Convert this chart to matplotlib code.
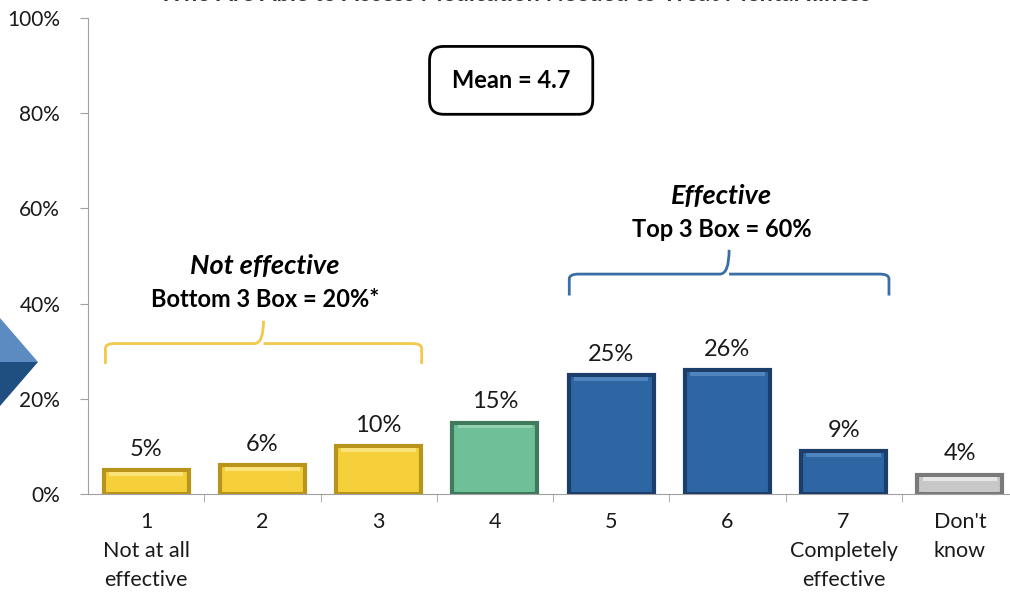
import matplotlib
matplotlib.use("Agg")
import matplotlib.pyplot as plt
from matplotlib.patches import Polygon
from matplotlib.path import Path
from matplotlib.patches import PathPatch

plt.rcParams['font.family'] = ['Lato', 'DejaVu Sans']

categories = ["1\nNot at all\neffective", "2", "3", "4", "5", "6", "7\nCompletely\neffective", "Don't\nknow"]
values = [5, 6, 10, 15, 25, 26, 9, 4]
labels = ["5%", "6%", "10%", "15%", "25%", "26%", "9%", "4%"]
face_colors = ["#F5D03A", "#F5D03A", "#F5D03A", "#6FBF98", "#2E66A4", "#2E66A4", "#2E66A4", "#C8C8C8"]
top_colors = ["#FBE27A", "#FBE27A", "#FBE27A", "#92D2B2", "#4F84BE", "#4F84BE", "#4F84BE", "#E6E6E6"]
edge_colors = ["#B8941A", "#B8941A", "#B8941A", "#3F7A5C", "#1B3F6A", "#1B3F6A", "#1B3F6A", "#7A7A7A"]
yticks = [0, 20, 40, 60, 80, 100]
ytick_labels = ["0%", "20%", "40%", "60%", "80%", "100%"]

fig = plt.figure(figsize=(10.10, 5.92), dpi=100)
ax = fig.add_axes([88/1010, 98/592, 930/1010, 476/592])

x = list(range(len(values)))
ax.bar(x, values, width=0.73, color=face_colors, edgecolor=edge_colors, linewidth=3, zorder=3)
# bevel look: light top band and inner face
ax.bar(x, [0.8] * len(values), bottom=[v - 1.2 for v in values], width=0.64, color=top_colors,
       edgecolor='none', zorder=4)
ax.bar(x, [v - 1.6 for v in values], bottom=0.4, width=0.6, color=face_colors, edgecolor='none', zorder=4)

for xi, v, lab in zip(x, values, labels):
    ax.text(xi, v + 2.2, lab, ha='center', va='bottom', fontsize=17, color='#1a1a1a')

ax.set_xlim(-0.5, len(values) - 0.5)
ax.set_ylim(0, 100)
ax.set_yticks(yticks)
ax.set_yticklabels(ytick_labels, fontsize=15, color='#1a1a1a')
ax.set_xticks(x)
ax.set_xticklabels(categories, fontsize=15.5, linespacing=1.55, color='#1a1a1a')
ax.tick_params(axis='x', length=0, pad=13)
ax.set_xticks([i + 0.5 for i in range(len(values) - 1)], minor=True)
ax.tick_params(axis='x', which='minor', length=6, color='#A0A0A0', direction='out')
ax.tick_params(axis='y', length=6, color='#A0A0A0', pad=14)
for s in ['top', 'right']:
    ax.spines[s].set_visible(False)
ax.spines['left'].set_color('#A0A0A0')
ax.spines['bottom'].set_color('#A0A0A0')

# brackets
def bracket(x0, x1, yh, yend, ypeak, color):
    xm = (x0 + x1) / 2
    verts = [(x0, yend), (x0, yh - 1.0), (x0, yh), (x0 + 0.08, yh), (xm - 0.08, yh), (xm, yh), (xm, ypeak),
             (xm, yh), (xm + 0.08, yh), (x1 - 0.08, yh), (x1, yh), (x1, yh - 1.0), (x1, yend)]
    codes = [Path.MOVETO, Path.LINETO, Path.CURVE3, Path.CURVE3, Path.LINETO, Path.CURVE3, Path.CURVE3,
             Path.MOVETO, Path.CURVE3, Path.LINETO, Path.CURVE3, Path.CURVE3, Path.LINETO]
    ax.add_patch(PathPatch(Path(verts, codes), fill=False, edgecolor=color, lw=2, clip_on=False, zorder=5))

bracket(-0.35, 2.37, 31.6, 27.3, 36.4, '#F2C94C')
bracket(3.64, 6.39, 46.2, 41.7, 51.3, '#3A6EA5')

ax.text(1.02, 47.9, "Not effective", ha='center', va='center', fontsize=19.5, fontweight='bold', style='italic')
ax.text(1.02, 40.9, "Bottom 3 Box = 20%*", ha='center', va='center', fontsize=17, fontweight='bold')
ax.text(4.95, 62.6, "Effective", ha='center', va='center', fontsize=19.5, fontweight='bold', style='italic')
ax.text(4.95, 55.6, "Top 3 Box = 60%", ha='center', va='center', fontsize=17, fontweight='bold')

# Mean box
ax.text(3.14, 86.9, "Mean = 4.7", ha='center', va='center', fontsize=17, fontweight='bold',
        bbox=dict(boxstyle='round,pad=0.95,rounding_size=0.6', facecolor='white', edgecolor='black', lw=2))

# Clipped title at top (cut off in the reference too)
fig.text(0.51, 1.011, "Who Are Able to Access Medication Needed to Treat Mental Illness", ha='center', va='center',
         fontsize=17, fontweight='bold', color='#333333')

# decorative arrow at left
fig.patches.append(Polygon([[0, 1 - 318/592], [38/1010, 1 - 362/592], [0, 1 - 362/592]], closed=True,
                           transform=fig.transFigure, facecolor='#5B8BC0', edgecolor='none'))
fig.patches.append(Polygon([[0, 1 - 362/592], [38/1010, 1 - 362/592], [0, 1 - 406/592]], closed=True,
                           transform=fig.transFigure, facecolor='#1F4E80', edgecolor='none'))

fig.savefig("out.png", dpi=100)
